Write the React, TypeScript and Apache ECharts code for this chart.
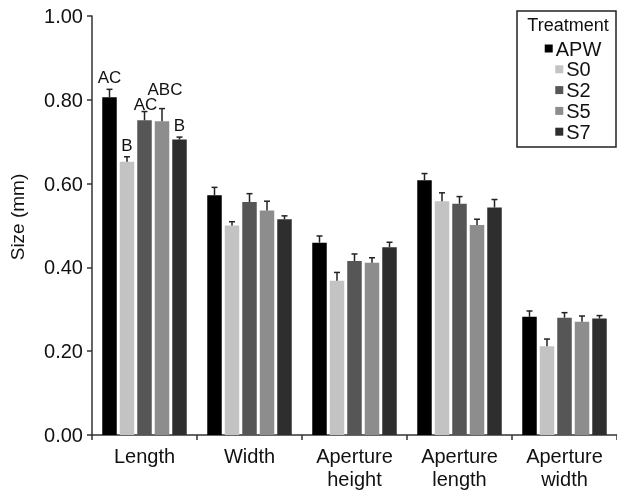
import React, { useEffect, useRef } from "react";
import * as echarts from "echarts";

const categories = ["Length", "Width", "Aperture\nheight", "Aperture\nlength", "Aperture\nwidth"];
const treatments = ["APW", "S0", "S2", "S5", "S7"];
const yTicks = [0, 0.2, 0.4, 0.6, 0.8, 1.0];

const apw = [0.806, 0.572, 0.459, 0.608, 0.282];
const apwErr = [0.019, 0.019, 0.016, 0.016, 0.014];
const s0 = [0.652, 0.5, 0.368, 0.558, 0.212];
const s0Err = [0.012, 0.009, 0.02, 0.02, 0.017];
const s2 = [0.751, 0.556, 0.415, 0.552, 0.28];
const s2Err = [0.021, 0.02, 0.017, 0.017, 0.012];
const s5 = [0.749, 0.536, 0.411, 0.501, 0.27];
const s5Err = [0.03, 0.022, 0.012, 0.014, 0.014];
const s7 = [0.705, 0.515, 0.448, 0.543, 0.278];
const s7Err = [0.006, 0.008, 0.012, 0.019, 0.007];
const lengthLetters = ["AC", "B", "AC", "ABC", "B"];

const values = [apw, s0, s2, s5, s7];
const errors = [apwErr, s0Err, s2Err, s5Err, s7Err];

// styles
const colors = ["#000000", "#c3c3c3", "#565656", "#8d8d8d", "#2e2e2e"];
const FONT = "'Liberation Sans', Arial, Helvetica, sans-serif";
const BAR_W = 14.5;
const GAP = 3;
const letterDx = [0, 0, 1, 3, 0];
const letterDy = [0, 0, 4, -8, 0];

export default function App() {
  const ref = useRef<HTMLDivElement>(null);
  useEffect(() => {
    if (!ref.current) return;
    const chart = echarts.init(ref.current, undefined, { renderer: "svg" });

    const ctx = document.createElement("canvas").getContext("2d");
    const measure = (t: string, size: number) => {
      if (!ctx) return t.length * size * 0.6;
      ctx.font = `${size}px 'Liberation Sans', Arial, sans-serif`;
      return ctx.measureText(t).width;
    };

    const barSeries = treatments.map((name, i) => ({
      type: "bar",
      name,
      data: values[i],
      barWidth: BAR_W,
      barGap: ((GAP / BAR_W) * 100).toFixed(1) + "%",
      barCategoryGap: "20%",
      itemStyle: { color: colors[i] },
      silent: true,
    }));

    const errSeries = treatments.map((name, i) => ({
      type: "custom",
      name: name + "-err",
      silent: true,
      z: 5,
      data: categories.map((_, j) => [j, values[i][j], errors[i][j]]),
      encode: { x: 0, y: 1 },
      renderItem: (params: any, api: any) => {
        const idx = api.value(0);
        const v = api.value(1);
        const e = api.value(2);
        const p0 = api.coord([idx, v]);
        const p1 = api.coord([idx, v + e]);
        const x = p0[0] + (i - 2) * (BAR_W + GAP);
        const children: any[] = [
          {
            type: "line",
            shape: { x1: x, y1: p0[1], x2: x, y2: p1[1] },
            style: { stroke: "#222", lineWidth: 1.5 },
          },
          {
            type: "line",
            shape: { x1: x - 3, y1: p1[1], x2: x + 3, y2: p1[1] },
            style: { stroke: "#222", lineWidth: 1.5 },
          },
        ];
        if (idx === 0 && lengthLetters[i]) {
          children.push({
            type: "text",
            x: x + letterDx[i],
            y: p1[1] - 3 + letterDy[i],
            style: {
              text: lengthLetters[i],
              font: `17px ${FONT}`,
              fill: "#111",
              textAlign: "center",
              textVerticalAlign: "bottom",
            },
          });
        }
        return { type: "group", children };
      },
    }));

    // legend graphic
    const legendCx = 573;
    const itemY0 = 48.5;
    const itemStep = 20.8;
    const sq = 8;
    const legendItems: any[] = [];
    treatments.forEach((t, i) => {
      const tw = measure(t, 20);
      const total = sq + 3 + tw;
      const x0 = legendCx - total / 2;
      const y = itemY0 + i * itemStep;
      legendItems.push({
        type: "rect",
        shape: { x: x0, y: y - sq / 2, width: sq, height: sq },
        style: { fill: colors[i] },
      });
      legendItems.push({
        type: "text",
        x: x0 + sq + 3,
        y,
        style: {
          text: t,
          font: `20px ${FONT}`,
          fill: "#111",
          textAlign: "left",
          textVerticalAlign: "middle",
        },
      });
    });

    chart.setOption({
      animation: false,
      textStyle: { fontFamily: FONT },
      grid: { left: 91.5, top: 16, width: 527.5, height: 419, containLabel: false },
      xAxis: {
        type: "category",
        data: categories,
        axisLine: { lineStyle: { color: "#333", width: 1.5 } },
        axisTick: { show: true, length: 5, lineStyle: { color: "#333", width: 1.5 } },
        axisLabel: { fontSize: 20, color: "#111", margin: 9, lineHeight: 23, interval: 0 },
      },
      yAxis: {
        type: "value",
        min: yTicks[0],
        max: yTicks[yTicks.length - 1],
        interval: 0.2,
        name: "Size (mm)",
        nameLocation: "middle",
        nameGap: 65,
        nameTextStyle: { fontSize: 19, color: "#111", padding: [0, 0, 0, 17] },
        axisLine: { show: true, lineStyle: { color: "#333", width: 1.5 } },
        axisTick: { show: true, length: 5, lineStyle: { color: "#333", width: 1.5 } },
        splitLine: { show: false },
        axisLabel: {
          fontSize: 20,
          color: "#111",
          margin: 9,
          formatter: (v: number) => v.toFixed(2),
        },
      },
      graphic: [
        {
          type: "rect",
          shape: { x: 517, y: 11, width: 99, height: 136 },
          style: { fill: "#fff", stroke: "#222", lineWidth: 1.5 },
        },
        {
          type: "text",
          x: 568,
          y: 25,
          style: {
            text: "Treatment",
            font: `18px ${FONT}`,
            fill: "#111",
            textAlign: "center",
            textVerticalAlign: "middle",
          },
        },
        ...legendItems,
      ],
      series: [...barSeries, ...errSeries],
    });

    return () => chart.dispose();
  }, []);

  return (
    <div
      ref={ref}
      style={{ position: "fixed", left: 0, top: 0, width: 617, height: 490 }}
    />
  );
}
